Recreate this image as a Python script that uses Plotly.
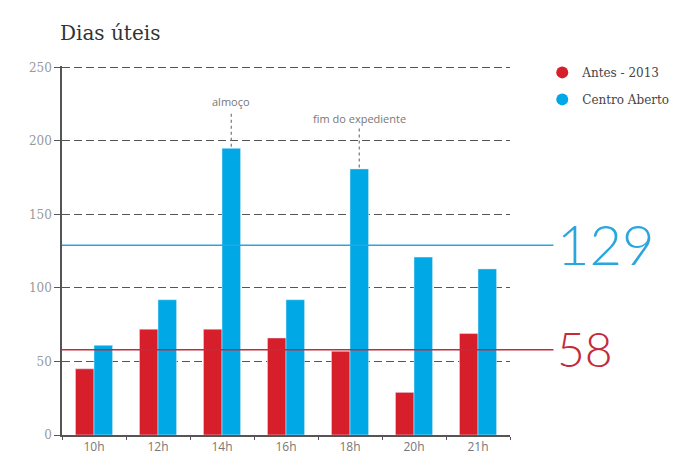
import plotly.graph_objects as go

categories = ["10h", "12h", "14h", "16h", "18h", "20h", "21h"]
antes = [45, 72, 72, 66, 57, 29, 69]
centro = [61, 92, 195, 92, 181, 121, 113]
avg_antes = 58
avg_centro = 129
y_ticks = [0, 50, 100, 150, 200, 250]

RED = "#d61f2b"
BLUE = "#00a9e6"
LINE_BLUE = "#2ba6dc"
LINE_RED = "#c42a3a"
SERIF = "DejaVu Serif"

fig = go.Figure()
fig.add_trace(go.Bar(x=categories, y=antes, marker_color=RED, showlegend=False, name="Antes - 2013"))
fig.add_trace(go.Bar(x=categories, y=centro, marker_color=BLUE, showlegend=False, name="Centro Aberto"))
# legend proxies with circle markers
fig.add_trace(go.Scatter(x=[None], y=[None], mode="markers", name="Antes - 2013", legendgroup="a",
                         marker=dict(color=RED, size=10, symbol="circle")))
fig.add_trace(go.Scatter(x=[None], y=[None], mode="markers", name="Centro Aberto", legendgroup="b",
                         marker=dict(color=BLUE, size=10, symbol="circle")))

bargap = 0.42
half = (1 - bargap) / 4  # offset of each bar's center

# average lines
fig.add_shape(type="line", xref="paper", yref="y", x0=0, x1=1.097, y0=avg_centro, y1=avg_centro,
              line=dict(color=LINE_BLUE, width=1.5))
fig.add_shape(type="line", xref="paper", yref="y", x0=0, x1=1.097, y0=avg_antes, y1=avg_antes,
              line=dict(color=LINE_RED, width=1.5))
fig.add_annotation(xref="paper", yref="y", x=1.100, y=avg_centro + 1, text=str(avg_centro),
                   showarrow=False, xanchor="left", yanchor="middle",
                   font=dict(family="Lato", size=56, color=LINE_BLUE, weight=300))
fig.add_annotation(xref="paper", yref="y", x=1.100, y=avg_antes + 1, text=str(avg_antes),
                   showarrow=False, xanchor="left", yanchor="middle",
                   font=dict(family="Lato", size=48, color=LINE_RED, weight=300))

# callouts
callouts = [("almoço", 2, 227, 220), ("fim do expediente", 4, 215.5, 210)]
for text, idx, ty, top in callouts:
    xpos = idx + half
    fig.add_shape(type="line", xref="x", yref="y", x0=xpos, x1=xpos, y0=centro[idx] + 1, y1=top,
                  line=dict(color="#777", width=1.2, dash="dot"))
    fig.add_annotation(xref="x", yref="y", x=xpos, y=ty, text=text, showarrow=False,
                       font=dict(family="Open Sans", size=11, color="#777"))

# title
fig.add_annotation(xref="paper", yref="paper", x=-0.01, y=1.089, text="Dias úteis",
                   showarrow=False, xanchor="left", yanchor="middle",
                   font=dict(family=SERIF, size=20, color="#333"))

fig.update_layout(
    width=688, height=455,
    margin=dict(l=62, r=178, t=66, b=20, autoexpand=False),
    paper_bgcolor="white", plot_bgcolor="white",
    barmode="group", bargap=bargap, bargroupgap=0,
    legend=dict(x=1.072, y=1.022, xanchor="left", yanchor="top",
                font=dict(family=SERIF, size=12, color="#444"),
                bgcolor="rgba(0,0,0,0)", itemsizing="constant", tracegroupgap=8,
                itemwidth=30),
    xaxis=dict(type="category", tickson="boundaries", ticks="outside", ticklen=3,
               tickcolor="#555", showline=True, linecolor="#555", linewidth=1.5, automargin=False,
               showgrid=False, tickfont=dict(family="Open Sans", size=12, color="#777")),
    yaxis=dict(range=[0, 251], tickvals=y_ticks, ticks="outside", ticklen=6, tickcolor="#555",
               showline=True, linecolor="#555", linewidth=1.5, automargin=False,
               showgrid=True, gridcolor="#555", griddash="8px,4px", gridwidth=1,
               zeroline=False, tickfont=dict(family=SERIF, size=12, color="#999")),
)

fig.write_html("out.html")
